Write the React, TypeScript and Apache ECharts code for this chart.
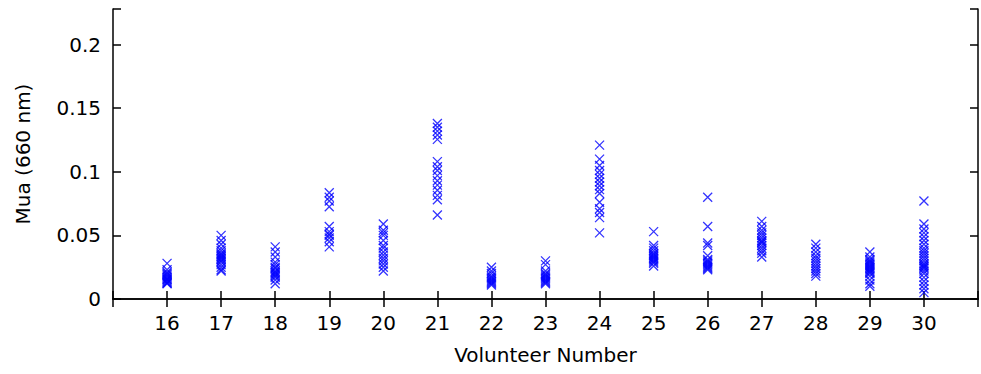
import React, { useEffect, useRef } from "react";
import * as echarts from "echarts";

const volunteers = [16, 17, 18, 19, 20, 21, 22, 23, 24, 25, 26, 27, 28, 29, 30];
const yTicks = [0, 0.05, 0.1, 0.15, 0.2];

const mua16 = [0.028, 0.023, 0.021, 0.02, 0.019, 0.018, 0.017, 0.016, 0.0155, 0.015, 0.014, 0.013, 0.0125, 0.012];
const mua17 = [0.05, 0.046, 0.043, 0.04, 0.038, 0.036, 0.035, 0.034, 0.033, 0.032, 0.031, 0.03, 0.029, 0.027, 0.025, 0.023, 0.022];
const mua18 = [0.041, 0.037, 0.033, 0.029, 0.027, 0.025, 0.024, 0.022, 0.021, 0.02, 0.019, 0.018, 0.017, 0.015, 0.012];
const mua19 = [0.0835, 0.08, 0.077, 0.0725, 0.057, 0.053, 0.051, 0.05, 0.048, 0.045, 0.041];
const mua20 = [0.059, 0.054, 0.052, 0.05, 0.046, 0.042, 0.04, 0.037, 0.0345, 0.032, 0.03, 0.0275, 0.025, 0.022];
const mua21 = [0.138, 0.135, 0.132, 0.129, 0.1255, 0.108, 0.104, 0.101, 0.097, 0.093, 0.0895, 0.0855, 0.0815, 0.078, 0.066];
const mua22 = [0.025, 0.022, 0.02, 0.018, 0.017, 0.016, 0.015, 0.014, 0.013, 0.012, 0.011];
const mua23 = [0.03, 0.027, 0.022, 0.02, 0.019, 0.018, 0.017, 0.016, 0.015, 0.014, 0.013, 0.012];
const mua24 = [0.121, 0.11, 0.105, 0.101, 0.098, 0.095, 0.092, 0.089, 0.086, 0.083, 0.076, 0.071, 0.068, 0.064, 0.052];
const mua25 = [0.053, 0.042, 0.04, 0.038, 0.036, 0.035, 0.034, 0.033, 0.032, 0.031, 0.03, 0.029, 0.028, 0.026];
const mua26 = [0.08, 0.057, 0.044, 0.042, 0.034, 0.031, 0.03, 0.029, 0.028, 0.027, 0.026, 0.025, 0.024, 0.023];
const mua27 = [0.061, 0.057, 0.054, 0.052, 0.05, 0.048, 0.046, 0.045, 0.044, 0.042, 0.04, 0.038, 0.036, 0.033];
const mua28 = [0.043, 0.04, 0.037, 0.034, 0.032, 0.03, 0.028, 0.026, 0.024, 0.022, 0.02, 0.018];
const mua29 = [0.037, 0.033, 0.031, 0.03, 0.029, 0.028, 0.027, 0.026, 0.025, 0.024, 0.023, 0.022, 0.021, 0.02, 0.018, 0.015, 0.012, 0.01];
const mua30 = [0.077, 0.059, 0.055, 0.052, 0.049, 0.046, 0.043, 0.04, 0.038, 0.036, 0.034, 0.032, 0.03, 0.028, 0.027, 0.026, 0.025, 0.024, 0.022, 0.02, 0.017, 0.014, 0.011, 0.008, 0.005];

const muaLists = [mua16, mua17, mua18, mua19, mua20, mua21, mua22, mua23, mua24, mua25, mua26, mua27, mua28, mua29, mua30];

const FONT = "'DejaVu Sans', sans-serif";

export default function App() {
  const ref = useRef<HTMLDivElement>(null);
  useEffect(() => {
    if (!ref.current) return;
    const chart = echarts.init(ref.current, undefined, { renderer: "svg" });
    const points: number[][] = [];
    volunteers.forEach((v, i) => muaLists[i].forEach((m) => points.push([v, m])));
    const isTick = (v: number) => yTicks.some((t) => Math.abs(t - v) < 1e-9);
    const axisLine = { show: true, lineStyle: { color: "#000", width: 1.5 } };
    const tick = { show: true, inside: true, length: 8, lineStyle: { color: "#000", width: 1.5 } };
    chart.setOption({
      animation: false,
      backgroundColor: "#fff",
      grid: { left: 113, top: 9, width: 866, height: 290, containLabel: false },
      xAxis: [
        {
          type: "value",
          min: 15,
          max: 31,
          interval: 1,
          position: "bottom",
          name: "Volunteer Number",
          nameLocation: "middle",
          nameGap: 46,
          nameTextStyle: { fontFamily: FONT, fontSize: 20, color: "#000" },
          axisLine,
          axisTick: tick,
          splitLine: { show: false },
          axisLabel: {
            fontFamily: FONT,
            fontSize: 20,
            color: "#000",
            margin: 14,
            formatter: (v: number) => (volunteers.includes(v) ? String(v) : ""),
          },
        },
        {
          type: "value",
          min: 15,
          max: 31,
          interval: 1,
          position: "top",
          axisLine,
          axisTick: tick,
          splitLine: { show: false },
          axisLabel: { show: false },
        },
      ],
      yAxis: [
        {
          type: "value",
          min: 0,
          max: 0.228,
          interval: 0.05,
          position: "left",
          name: "Mua (660 nm)",
          nameLocation: "middle",
          nameGap: 80,
          nameRotate: 90,
          nameTextStyle: { fontFamily: FONT, fontSize: 20, color: "#000" },
          axisLine,
          axisTick: tick,
          splitLine: { show: false },
          axisLabel: {
            fontFamily: FONT,
            fontSize: 20,
            color: "#000",
            margin: 12,
            formatter: (v: number) => (isTick(v) ? String(Math.round(v * 100) / 100) : ""),
          },
        },
        {
          type: "value",
          min: 0,
          max: 0.228,
          interval: 0.05,
          position: "right",
          axisLine,
          axisTick: tick,
          splitLine: { show: false },
          axisLabel: { show: false },
        },
      ],
      series: [
        {
          type: "scatter",
          xAxisIndex: 0,
          yAxisIndex: 0,
          data: points,
          symbol: "path://M0,0L10,10M10,0L0,10",
          symbolSize: 9,
          itemStyle: { color: "transparent", borderColor: "#0000ff", borderWidth: 1.3 },
          emphasis: { disabled: true },
        },
      ],
    });
    return () => chart.dispose();
  }, []);
  return (
    <div
      ref={ref}
      style={{ position: "absolute", left: 0, top: 0, width: 981, height: 374, background: "#fff" }}
    />
  );
}
